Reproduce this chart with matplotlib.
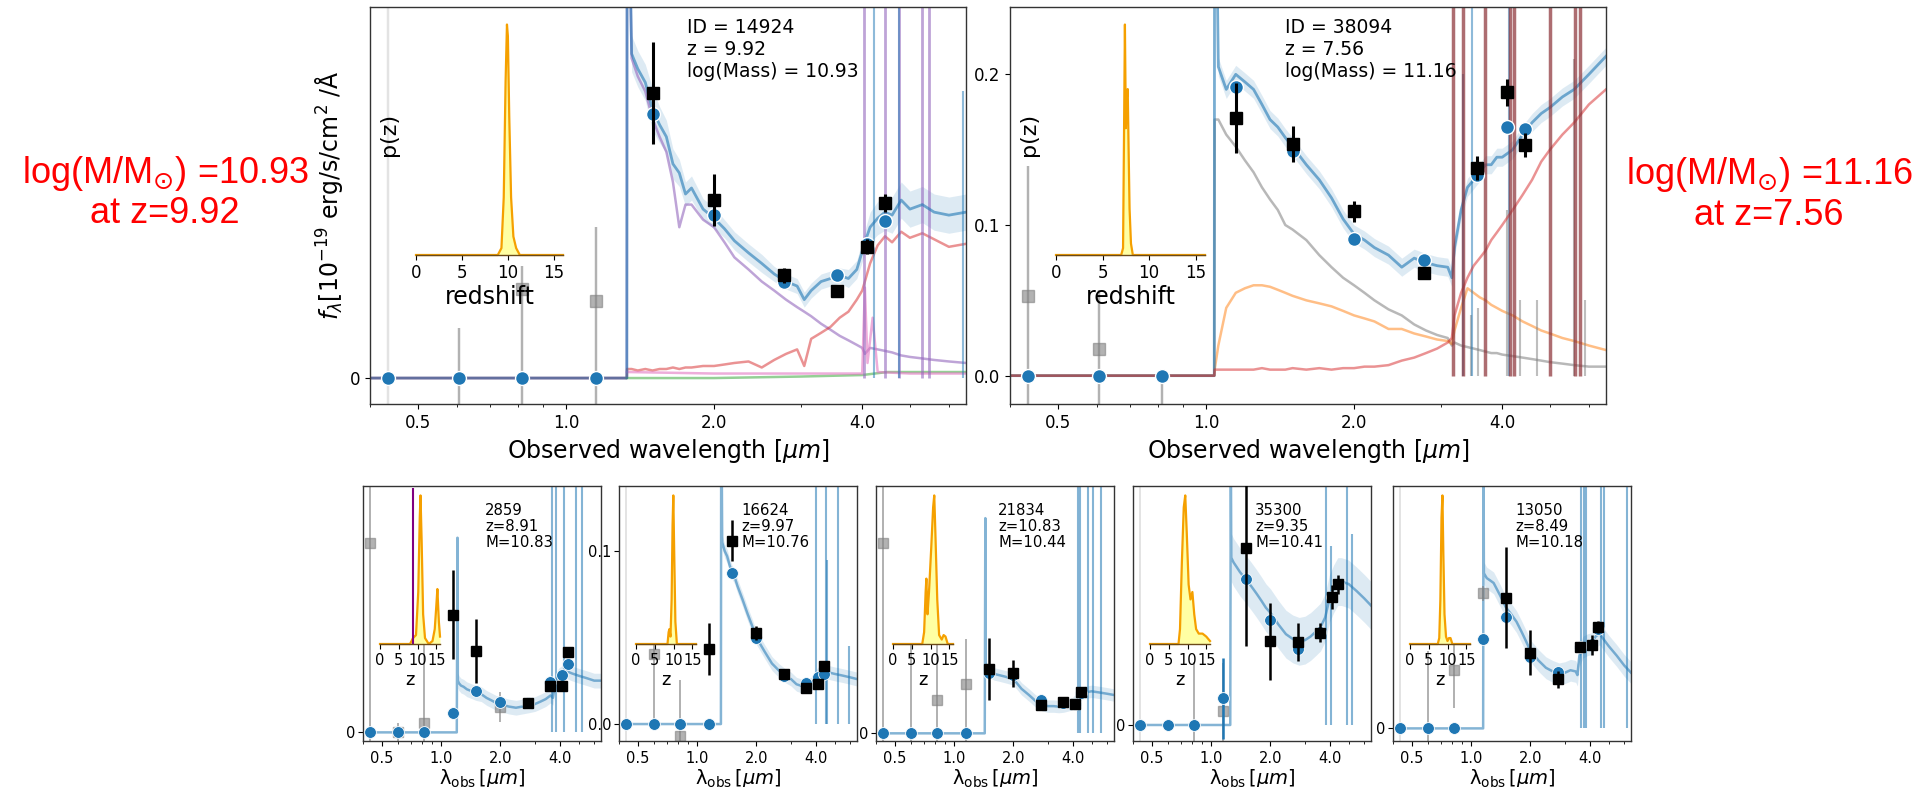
import numpy as np
import matplotlib
matplotlib.use("Agg")
import matplotlib.pyplot as plt
import matplotlib.ticker as mticker

W, H = 1919, 787

plt.rcParams["axes.edgecolor"] = "0.2"
plt.rcParams["axes.linewidth"] = 1.0

# -----------------------------
# Shared: filters and ticks
# -----------------------------
filt_wave = [0.435, 0.606, 0.814, 1.15, 1.50, 2.00, 2.77, 3.56, 4.10, 4.44]
wave_ticks = [0.5, 1.0, 2.0, 4.0]
wave_tick_labels = ["0.5", "1.0", "2.0", "4.0"]
z_ticks = [0, 5, 10, 15]

# -----------------------------
# Top-left: ID 14924
# -----------------------------
tl_wave = [0.40, 1.330, 1.332, 1.36, 1.40, 1.45, 1.50, 1.55, 1.60, 1.65, 1.70, 1.75, 1.80, 1.90,
           2.00, 2.10, 2.20, 2.35, 2.50, 2.65, 2.80, 2.95, 3.05, 3.15, 3.30, 3.45, 3.60, 3.75,
           3.90, 4.00, 4.05, 4.15, 4.30, 4.45, 4.60, 4.80, 5.00, 5.30, 5.60, 6.00, 6.50]
tl_total = [0, 0, 0.40, 0.215, 0.205, 0.196, 0.178, 0.168, 0.160, 0.142, 0.136, 0.122, 0.126, 0.112,
            0.106, 0.099, 0.091, 0.083, 0.076, 0.069, 0.064, 0.061, 0.052, 0.058, 0.064, 0.066, 0.068, 0.066,
            0.072, 0.084, 0.090, 0.100, 0.106, 0.110, 0.108, 0.118, 0.112, 0.115, 0.110, 0.108, 0.110]
tl_band = [0, 0, 0, 0.012, 0.012, 0.012, 0.014, 0.012, 0.011, 0.010, 0.009, 0.008, 0.008, 0.007,
           0.007, 0.006, 0.006, 0.006, 0.006, 0.005, 0.005, 0.005, 0.005, 0.005, 0.005, 0.005, 0.005, 0.006,
           0.006, 0.007, 0.008, 0.010, 0.011, 0.012, 0.012, 0.012, 0.012, 0.012, 0.012, 0.012, 0.012]
tl_purple = [0, 0, 0.40, 0.212, 0.200, 0.190, 0.172, 0.160, 0.150, 0.130, 0.100, 0.115, 0.115, 0.105,
             0.100, 0.090, 0.080, 0.072, 0.064, 0.058, 0.052, 0.047, 0.044, 0.041, 0.036, 0.032, 0.028, 0.025,
             0.022, 0.020, 0.016, 0.020, 0.019, 0.018, 0.017, 0.015, 0.014, 0.013, 0.012, 0.011, 0.010]
tl_red = [0, 0, 0.006, 0.006, 0.005, 0.006, 0.005, 0.006, 0.006, 0.007, 0.006, 0.007, 0.007, 0.008,
          0.008, 0.009, 0.010, 0.011, 0.007, 0.012, 0.016, 0.019, 0.008, 0.026, 0.030, 0.034, 0.040, 0.044,
          0.052, 0.058, 0.064, 0.076, 0.088, 0.094, 0.090, 0.097, 0.093, 0.096, 0.092, 0.087, 0.089]
tl_green_wave = [1.33, 2.0, 3.0, 4.0, 4.5, 5.5, 6.5]
tl_green = [0.0, 0.0, 0.001, 0.002, 0.004, 0.004, 0.004]
tl_pink_wave = [1.33, 2.0, 3.0, 4.0, 4.05, 4.1, 4.2, 4.3, 5.0, 6.5]
tl_pink = [0.004, 0.003, 0.003, 0.003, 0.06, 0.01, 0.04, 0.004, 0.003, 0.003]
tl_purple_lines = [4.04, 4.46, 4.75, 5.30, 5.46]
tl_blue_lines = [4.23, 4.75, 6.40]
tl_blue_tops = [0.30, 0.30, 0.19]

tl_circ = [0, 0, 0, 0, 0.175, 0.108, 0.064, 0.068, 0.089, 0.104]
tl_obs_wave = [1.50, 2.00, 2.77, 3.56, 4.10, 4.44]
tl_obs = [0.189, 0.118, 0.068, 0.058, 0.087, 0.116]
tl_obs_err = [0.034, 0.017, 0.005, 0.002, 0.005, 0.006]
tl_low_wave = [0.435, 0.606, 0.814, 1.15]
tl_low = [-0.10, -0.06, 0.059, 0.051]
tl_low_lo = [0.5, 0.1, 0.1, 0.1]
tl_low_hi = [0.5, 0.093, 0.015, 0.049]

tl_pz_z = [0, 8.9, 9.3, 9.55, 9.75, 9.9, 10.0, 10.15, 10.35, 10.6, 10.9, 11.3, 16]
tl_pz = [0, 0, 0.03, 0.25, 0.75, 1.0, 0.95, 0.6, 0.25, 0.08, 0.03, 0.0, 0]

# -----------------------------
# Top-right: ID 38094
# -----------------------------
tr_wave = [0.40, 1.040, 1.042, 1.06, 1.10, 1.15, 1.20, 1.25, 1.30, 1.35, 1.40, 1.45, 1.50, 1.60,
           1.70, 1.80, 1.90, 2.00, 2.10, 2.20, 2.35, 2.50, 2.65, 2.80, 2.95, 3.10, 3.16, 3.20,
           3.30, 3.40, 3.50, 3.60, 3.70, 3.80, 3.90, 4.00, 4.20, 4.40, 4.60, 4.80, 5.00, 5.30,
           5.60, 6.00, 6.50]
tr_total = [0, 0, 0.40, 0.205, 0.190, 0.200, 0.195, 0.190, 0.180, 0.170, 0.165, 0.158, 0.152, 0.140,
            0.130, 0.118, 0.104, 0.094, 0.090, 0.085, 0.080, 0.072, 0.078, 0.075, 0.073, 0.072, 0.065, 0.085,
            0.110, 0.125, 0.130, 0.135, 0.140, 0.140, 0.145, 0.145, 0.150, 0.160, 0.168, 0.174, 0.178, 0.185,
            0.190, 0.200, 0.212]
tr_gray = [0, 0, 0.17, 0.170, 0.160, 0.152, 0.143, 0.135, 0.125, 0.117, 0.110, 0.100, 0.097, 0.090,
           0.080, 0.072, 0.065, 0.060, 0.055, 0.050, 0.044, 0.040, 0.034, 0.030, 0.027, 0.025, 0.020, 0.022,
           0.020, 0.019, 0.018, 0.017, 0.016, 0.015, 0.015, 0.014, 0.013, 0.012, 0.011, 0.010, 0.009, 0.008,
           0.007, 0.006, 0.006]
tr_orange = [0, 0, 0.004, 0.020, 0.045, 0.055, 0.058, 0.060, 0.060, 0.059, 0.057, 0.055, 0.053, 0.050,
             0.048, 0.046, 0.043, 0.040, 0.038, 0.036, 0.031, 0.031, 0.028, 0.026, 0.024, 0.023, 0.021, 0.030,
             0.045, 0.058, 0.055, 0.052, 0.050, 0.047, 0.045, 0.043, 0.040, 0.036, 0.033, 0.030, 0.028, 0.025,
             0.023, 0.020, 0.017]
tr_red = [0, 0, 0.004, 0.004, 0.004, 0.004, 0.004, 0.004, 0.005, 0.004, 0.004, 0.004, 0.005, 0.004,
          0.005, 0.004, 0.005, 0.005, 0.006, 0.006, 0.007, 0.010, 0.012, 0.015, 0.018, 0.022, 0.025, 0.040,
          0.055, 0.065, 0.073, 0.078, 0.083, 0.090, 0.095, 0.100, 0.110, 0.120, 0.130, 0.142, 0.150, 0.160,
          0.168, 0.180, 0.190]
tr_band_width = 0.006
tr_brown_lines = [3.18, 3.33, 3.69, 4.15, 4.23, 5.00, 5.62, 5.76]
tr_gray_lines = [3.45, 3.57, 4.10, 4.35, 4.70, 5.60, 5.90]
tr_gray_tops = [0.04, 0.045, 0.11, 0.05, 0.05, 0.21, 0.05]
tr_blue_lines = [3.33, 3.47, 4.13]
tr_blue_tops = [0.20, 0.30, 0.30]

tr_circ = [0, 0, 0, 0.1915, 0.149, 0.091, 0.077, 0.133, 0.165, 0.164]
tr_obs_wave = [1.15, 1.50, 2.00, 2.77, 3.56, 4.10, 4.44]
tr_obs = [0.171, 0.154, 0.109, 0.068, 0.138, 0.188, 0.153]
tr_obs_err = [0.023, 0.012, 0.007, 0.002, 0.008, 0.009, 0.008]
tr_low_wave = [0.435, 0.606, 0.814]
tr_low = [0.053, 0.018, -0.05]
tr_low_lo = [0.1, 0.1, 0.1]
tr_low_hi = [0.086, 0.039, 0.05]

tr_pz_z = [0, 7.0, 7.2, 7.3, 7.4, 7.5, 7.6, 7.7, 7.8, 7.9, 8.05, 8.25, 16]
tr_pz = [0, 0, 0.03, 0.5, 1.0, 0.55, 0.68, 0.72, 0.45, 0.2, 0.05, 0, 0]

# -----------------------------
# Bottom row: five more galaxies
# -----------------------------
b_ids = ["2859", "16624", "21834", "35300", "13050"]
b_z = ["8.91", "9.97", "10.83", "9.35", "8.49"]
b_mass = ["10.83", "10.76", "10.44", "10.41", "10.18"]

b1_wave = [0.40, 1.20, 1.21, 1.215, 1.23, 1.26, 1.30, 1.35, 1.40, 1.50, 1.60, 1.70, 1.80, 1.90, 2.00,
           2.20, 2.40, 2.60, 2.80, 3.00, 3.20, 3.40, 3.60, 3.70, 3.80, 3.95, 4.10, 4.30, 4.60, 5.00,
           5.50, 6.00, 6.50]
b1_flux = [0, 0, 0.79, 0.21, 0.20, 0.19, 0.185, 0.175, 0.17, 0.16, 0.155, 0.14, 0.13, 0.12, 0.115,
           0.105, 0.10, 0.105, 0.11, 0.115, 0.125, 0.135, 0.15, 0.14, 0.20, 0.23, 0.24, 0.25, 0.24, 0.23,
           0.22, 0.21, 0.21]
b1_circ = [0, 0, 0, 0.077, 0.167, 0.122, 0.118, 0.203, 0.232, 0.277]
b1_obs_wave = [1.15, 1.50, 2.77, 3.56, 4.10, 4.44]
b1_obs = [0.478, 0.330, 0.118, 0.189, 0.189, 0.327]
b1_obs_err = [0.18, 0.13, 0.012, 0.012, 0.012, 0.015]
b1_low_wave = [0.435, 0.606, 0.814, 2.00]
b1_low = [0.769, 0.0, 0.040, 0.104]
b1_low_lo = [1.0, 0.04, 0.3, 0.061]
b1_low_hi = [1.0, 0.04, 0.6, 0.061]
b1_lines = [3.64, 3.85, 4.19, 4.85, 5.20]
b1_tops = [2, 2, 2, 2, 2]
b1_pz_z = [0, 8.0, 8.8, 9.6, 10.2, 10.6, 10.8, 11.1, 11.5, 12.0, 13.0, 14.0, 14.6, 15.0, 15.3, 15.7, 16.0]
b1_pz = [0, 0, 0.04, 0.06, 0.35, 0.85, 1.0, 0.7, 0.2, 0.04, 0.0, 0.02, 0.1, 0.25, 0.37, 0.15, 0.05]
b1_zbest = 8.91

b2_wave = [0.40, 1.32, 1.325, 1.34, 1.38, 1.42, 1.46, 1.50, 1.55, 1.60, 1.70, 1.80, 1.90, 2.00, 2.20,
           2.40, 2.60, 2.80, 3.00, 3.20, 3.40, 3.60, 3.80, 4.00, 4.20, 4.40, 4.60, 5.00, 5.50, 6.00, 6.50]
b2_flux = [0, 0, 0.2, 0.105, 0.100, 0.097, 0.092, 0.088, 0.085, 0.080, 0.072, 0.064, 0.057, 0.050, 0.042,
           0.035, 0.031, 0.028, 0.026, 0.023, 0.022, 0.022, 0.023, 0.027, 0.030, 0.031, 0.030, 0.029, 0.028,
           0.027, 0.026]
b2_circ = [0, 0, 0, 0, 0.0871, 0.050, 0.028, 0.0237, 0.027, 0.029]
b2_obs_wave = [1.15, 1.50, 2.00, 2.77, 3.56, 4.10, 4.44]
b2_obs = [0.0433, 0.106, 0.0525, 0.0289, 0.0208, 0.0233, 0.0338]
b2_obs_err = [0.015, 0.012, 0.004, 0.0015, 0.0015, 0.0015, 0.002]
b2_low_wave = [0.435, 0.606, 0.814]
b2_low = [0.5, 0.0404, -0.0068]
b2_low_lo = [1.0, 0.0404, 0.032]
b2_low_hi = [1.0, 0.05, 0.032]
b2_lines = [4.0, 4.5, 4.6, 5.2, 5.9]
b2_tops = [0.2, 0.2, 0.095, 0.2, 0.045]
b2_pz_z = [0, 8.4, 8.7, 8.9, 9.2, 9.5, 9.75, 9.95, 10.2, 10.5, 10.9, 16]
b2_pz = [0, 0, 0.08, 0.1, 0.05, 0.3, 0.8, 1.0, 0.6, 0.15, 0, 0]

b3_wave = [0.40, 1.43, 1.44, 1.445, 1.46, 1.50, 1.55, 1.60, 1.70, 1.80, 1.90, 2.00, 2.20, 2.40, 2.60,
           2.80, 3.00, 3.20, 3.40, 3.60, 3.80, 4.00, 4.20, 4.40, 4.60, 5.00, 5.50, 6.00, 6.50]
b3_flux = [0, 0, 0.87, 0.27, 0.26, 0.25, 0.245, 0.24, 0.235, 0.23, 0.225, 0.22, 0.18, 0.155, 0.13,
           0.115, 0.11, 0.11, 0.108, 0.11, 0.115, 0.12, 0.14, 0.16, 0.165, 0.17, 0.165, 0.16, 0.155]
b3_circ = [0, 0, 0, 0, 0.243, 0.236, 0.135, 0.124, 0.119, 0.162]
b3_obs_wave = [1.50, 2.00, 2.77, 3.56, 4.10, 4.44]
b3_obs = [0.260, 0.243, 0.114, 0.128, 0.117, 0.166]
b3_obs_err = [0.125, 0.055, 0.02, 0.012, 0.01, 0.012]
b3_low_wave = [0.435, 0.606, 0.814, 1.15]
b3_low = [0.768, -0.30, 0.135, 0.198]
b3_low_lo = [1.0, 0.5, 0.5, 0.5]
b3_low_hi = [1.0, 0.8, 0.5, 0.182]
b3_lines = [4.25, 4.37, 4.8, 5.1, 5.6]
b3_tops = [2, 2, 2, 2, 2]
b3_pz_z = [0, 7.8, 8.3, 8.7, 8.9, 9.2, 9.6, 10.2, 10.7, 11.0, 11.3, 11.8, 12.3, 13.0, 13.5, 14.0, 14.6, 16]
b3_pz = [0, 0, 0.08, 0.35, 0.44, 0.2, 0.35, 0.65, 0.92, 1.0, 0.75, 0.3, 0.06, 0.03, 0.06, 0.05, 0.0, 0]

b4_wave = [0.40, 1.25, 1.258, 1.265, 1.30, 1.35, 1.40, 1.50, 1.60, 1.70, 1.80, 1.90, 2.00, 2.20, 2.40,
           2.60, 2.80, 3.00, 3.20, 3.40, 3.60, 3.80, 4.00, 4.20, 4.40, 4.60, 5.00, 5.50, 6.00, 6.50]
b4_flux = [0, 0, 1.2, 0.70, 0.68, 0.66, 0.64, 0.61, 0.58, 0.55, 0.52, 0.49, 0.47, 0.42, 0.38,
           0.36, 0.35, 0.355, 0.37, 0.39, 0.41, 0.45, 0.53, 0.57, 0.60, 0.60, 0.59, 0.56, 0.53, 0.50]
b4_circ = [0, 0, 0, 0.112, 0.610, 0.440, 0.320, 0.390, 0.537, 0.590]
b4_circ_err = [0, 0, 0, 0.17, 0, 0, 0, 0, 0, 0]
b4_obs_wave = [1.50, 2.00, 2.77, 3.56, 4.10, 4.44]
b4_obs = [0.740, 0.350, 0.346, 0.386, 0.534, 0.589]
b4_obs_err = [0.41, 0.16, 0.08, 0.04, 0.05, 0.04]
b4_low_wave = [0.435, 0.814, 1.15]
b4_low = [1.5, -0.30, 0.060]
b4_low_lo = [2.0, 0.5, 0.5]
b4_low_hi = [2.0, 0.565, 0.2]
b4_lines = [3.85, 4.05, 4.9, 5.2]
b4_tops = [2, 0.75, 2, 0.8]
b4_pz_z = [0, 7.6, 8.0, 8.5, 9.0, 9.4, 9.8, 10.3, 10.8, 11.3, 11.8, 12.3, 13.0, 14.0, 15.0, 16.0]
b4_pz = [0, 0, 0.1, 0.55, 0.92, 1.0, 0.75, 0.4, 0.3, 0.35, 0.2, 0.1, 0.07, 0.07, 0.05, 0.02]

b5_wave = [0.40, 1.15, 1.155, 1.16, 1.20, 1.25, 1.30, 1.40, 1.50, 1.60, 1.70, 1.80, 1.90, 2.00, 2.20,
           2.40, 2.60, 2.80, 3.00, 3.20, 3.40, 3.47, 3.55, 3.70, 3.90, 4.10, 4.30, 4.50, 5.00, 5.50,
           6.00, 6.50]
b5_flux = [0, 0, 1.2, 0.64, 0.62, 0.61, 0.60, 0.55, 0.50, 0.47, 0.44, 0.40, 0.36, 0.32, 0.28,
           0.25, 0.235, 0.225, 0.23, 0.24, 0.235, 0.22, 0.30, 0.335, 0.345, 0.35, 0.38, 0.39, 0.34, 0.30,
           0.26, 0.23]
b5_circ = [0, 0, 0, 0.367, 0.460, 0.296, 0.234, 0.337, 0.350, 0.410]
b5_obs_wave = [1.50, 2.00, 2.77, 3.56, 4.10, 4.44]
b5_obs = [0.540, 0.312, 0.2035, 0.334, 0.344, 0.420]
b5_obs_err = [0.21, 0.093, 0.035, 0.02, 0.04, 0.025]
b5_low_wave = [0.435, 0.606, 0.814, 1.15]
b5_low = [1.5, -0.30, 0.24, 0.557]
b5_low_lo = [2.0, 0.5, 0.155, 0.03]
b5_low_hi = [2.0, 0.62, 0.155, 0.03]
b5_lines = [3.6, 3.75, 3.85, 4.6, 4.75, 6.2]
b5_tops = [2, 2, 2, 2, 2, 2]
b5_pz_z = [0, 7.4, 7.8, 8.1, 8.4, 8.65, 8.9, 9.2, 9.6, 10.0, 10.4, 10.8, 11.3, 16]
b5_pz = [0, 0, 0.04, 0.3, 0.85, 1.0, 0.6, 0.2, 0.05, 0.02, 0.04, 0.04, 0.0, 0]


# -----------------------------
# Helpers
# -----------------------------
def box(x0, y0, x1, y1):
    # pixel box (top-left origin) -> figure fraction
    return [x0 / W, 1 - y1 / H, (x1 - x0) / W, (y1 - y0) / H]


def style_sed(ax, tick_size):
    ax.set_xscale("log")
    ax.set_xlim(0.40, 6.5)
    ax.xaxis.set_major_locator(mticker.FixedLocator(wave_ticks))
    ax.xaxis.set_major_formatter(mticker.FixedFormatter(wave_tick_labels))
    ax.xaxis.set_minor_locator(mticker.LogLocator(base=10, subs=np.arange(2, 10), numticks=20))
    ax.xaxis.set_minor_formatter(mticker.NullFormatter())
    ax.tick_params(labelsize=tick_size)


def draw_points(ax, circ, ow, ov, oe, gw, gv, glo, ghi, big, circ_err=None):
    if big:
        ms_c, mew_c, ms_s, elw = 10, 1.0, 9, 2.2
    else:
        ms_c, mew_c, ms_s, elw = 8.5, 0.6, 6.7, 1.8
    ylo, yhi = ax.get_ylim()
    for w, v, lo, hi in zip(gw, gv, glo, ghi):
        off = v < ylo or v > yhi
        full = (v - lo) < ylo and (v + hi) > yhi
        a = 0.22 if (off and full) else 0.6
        ax.errorbar([w], [v], yerr=[[lo], [hi]], fmt="s", color="gray", alpha=a,
                    ms=ms_s, elinewidth=elw * 0.8, capsize=0, zorder=2)
    if circ_err is not None:
        ax.errorbar(filt_wave, circ, yerr=circ_err, fmt="none", ecolor="C0",
                    elinewidth=elw, capsize=0, zorder=2.5)
    ax.plot(filt_wave, circ, "o", color="C0", mec="white", mew=mew_c, ms=ms_c, zorder=3)
    ax.errorbar(ow, ov, yerr=oe, fmt="s", color="k", ms=ms_s, elinewidth=elw,
                capsize=0, zorder=4)


def style_inset(ax, zz, pp, tick_size, label, label_size, ylab=None):
    ax.set_facecolor("white")
    ax.fill_between(zz, 0, pp, color="#ffff66", alpha=0.6, lw=0)
    ax.plot(zz, pp, color="#f5a000", lw=1.6, clip_on=False)
    ax.set_xlim(0, 16)
    ax.set_ylim(0, 1.05)
    ax.set_xticks(z_ticks)
    ax.set_yticks([])
    for s in ["left", "top", "right"]:
        ax.spines[s].set_visible(False)
    ax.spines["bottom"].set_color("#6b4a1a")
    ax.tick_params(labelsize=tick_size, pad=3)
    ax.set_xlabel(label, fontsize=label_size, labelpad=2)
    if ylab:
        ax.set_ylabel(ylab, fontsize=16, labelpad=12)


fig = plt.figure(figsize=(W / 100, H / 100), dpi=100)

# -----------------------------
# Top-left panel
# -----------------------------
ax = fig.add_axes(box(370, 7, 966, 404))
style_sed(ax, 12)
ax.set_ylim(-0.0172, 0.246)
ax.set_yticks([0])
ax.set_yticklabels(["0"])
tot = np.array(tl_total)
bw = np.array(tl_band)
ax.fill_between(tl_wave, tot - bw, tot + bw, color="C0", alpha=0.15, lw=0)
ax.plot(tl_wave, tl_purple, color="C4", alpha=0.6, lw=1.8)
ax.plot(tl_wave, tl_red, color="C3", alpha=0.5, lw=1.8)
ax.plot(tl_green_wave, tl_green, color="C2", alpha=0.5, lw=1.8)
ax.plot(tl_pink_wave, tl_pink, color="C6", alpha=0.6, lw=1.8)
ax.vlines(tl_purple_lines, 0, 1, color="C4", alpha=0.6, lw=2)
ax.vlines(tl_blue_lines, 0, tl_blue_tops, color="C0", alpha=0.5, lw=1.5)
ax.plot(tl_wave, tl_total, color="C0", alpha=0.6, lw=2)
draw_points(ax, tl_circ, tl_obs_wave, tl_obs, tl_obs_err,
            tl_low_wave, tl_low, tl_low_lo, tl_low_hi, big=True)
ax.set_xlabel("Observed wavelength [$\\mu m$]", fontsize=17)
ax.text(0.532, 0.972, "ID = 14924\nz = 9.92\nlog(Mass) = 10.93",
        transform=ax.transAxes, va="top", fontsize=13.5)
fig.text(329 / W, 1 - 195 / H, "$f_{\\lambda} [10^{-19}$ erg/s/cm$^2$ /Å",
         rotation=90, ha="center", va="center", fontsize=17)

ins = fig.add_axes(box(416, 13, 563, 255))
style_inset(ins, tl_pz_z, tl_pz, 12, "redshift", 17, ylab="p(z)")

# -----------------------------
# Top-right panel
# -----------------------------
ax = fig.add_axes(box(1010, 7, 1606, 404))
style_sed(ax, 12)
ax.set_ylim(-0.0188, 0.2447)
ax.set_yticks([0, 0.1, 0.2])
ax.set_yticklabels(["0.0", "0.1", "0.2"])
tot = np.array(tr_total)
bw = np.where(tot > 0, tr_band_width, 0)
ax.fill_between(tr_wave, tot - bw, tot + bw, color="C0", alpha=0.15, lw=0)
ax.plot(tr_wave, tr_gray, color="C7", alpha=0.55, lw=1.8)
ax.plot(tr_wave, tr_orange, color="C1", alpha=0.5, lw=1.8)
ax.vlines(tr_gray_lines, 0, tr_gray_tops, color="C7", alpha=0.5, lw=1.5)
ax.vlines(tr_blue_lines, 0, tr_blue_tops, color="C0", alpha=0.5, lw=1.5)
ax.plot(tr_wave, tr_total, color="C0", alpha=0.6, lw=2)
ax.plot(tr_wave, tr_red, color="C3", alpha=0.5, lw=1.8)
ax.vlines(tr_brown_lines, 0, 1, color="#8b2f35", alpha=0.7, lw=2.5)
draw_points(ax, tr_circ, tr_obs_wave, tr_obs, tr_obs_err,
            tr_low_wave, tr_low, tr_low_lo, tr_low_hi, big=True)
ax.set_xlabel("Observed wavelength [$\\mu m$]", fontsize=17)
ax.text(0.461, 0.972, "ID = 38094\nz = 7.56\nlog(Mass) = 11.16",
        transform=ax.transAxes, va="top", fontsize=13.5)

ins = fig.add_axes(box(1056, 13, 1205, 255))
style_inset(ins, tr_pz_z, tr_pz, 12, "redshift", 17, ylab="p(z)")

# -----------------------------
# Bottom row
# -----------------------------
panels = [
    dict(wave=b1_wave, flux=b1_flux, circ=b1_circ, ow=b1_obs_wave, ov=b1_obs, oe=b1_obs_err,
         gw=b1_low_wave, gv=b1_low, glo=b1_low_lo, ghi=b1_low_hi, lines=b1_lines, tops=b1_tops,
         pz_z=b1_pz_z, pz=b1_pz, ylim=(-0.035, 1.0), yt=[0], ytl=["0"], band=0.03),
    dict(wave=b2_wave, flux=b2_flux, circ=b2_circ, ow=b2_obs_wave, ov=b2_obs, oe=b2_obs_err,
         gw=b2_low_wave, gv=b2_low, glo=b2_low_lo, ghi=b2_low_hi, lines=b2_lines, tops=b2_tops,
         pz_z=b2_pz_z, pz=b2_pz, ylim=(-0.0098, 0.1376), yt=[0, 0.1], ytl=["0.0", "0.1"], band=0.004),
    dict(wave=b3_wave, flux=b3_flux, circ=b3_circ, ow=b3_obs_wave, ov=b3_obs, oe=b3_obs_err,
         gw=b3_low_wave, gv=b3_low, glo=b3_low_lo, ghi=b3_low_hi, lines=b3_lines, tops=b3_tops,
         pz_z=b3_pz_z, pz=b3_pz, ylim=(-0.031, 1.0), yt=[0], ytl=["0"], band=0.025),
    dict(wave=b4_wave, flux=b4_flux, circ=b4_circ, ow=b4_obs_wave, ov=b4_obs, oe=b4_obs_err,
         gw=b4_low_wave, gv=b4_low, glo=b4_low_lo, ghi=b4_low_hi, lines=b4_lines, tops=b4_tops,
         pz_z=b4_pz_z, pz=b4_pz, ylim=(-0.067, 1.0), yt=[0], ytl=["0"], band=0.1,
         circ_err=b4_circ_err),
    dict(wave=b5_wave, flux=b5_flux, circ=b5_circ, ow=b5_obs_wave, ov=b5_obs, oe=b5_obs_err,
         gw=b5_low_wave, gv=b5_low, glo=b5_low_lo, ghi=b5_low_hi, lines=b5_lines, tops=b5_tops,
         pz_z=b5_pz_z, pz=b5_pz, ylim=(-0.052, 1.0), yt=[0], ytl=["0"], band=0.045),
]
b_left = [363, 619, 876, 1133, 1393]

for i, p in enumerate(panels):
    left = b_left[i]
    ax = fig.add_axes(box(left, 486, left + 238, 741))
    style_sed(ax, 10.5)
    ax.set_ylim(*p["ylim"])
    ax.set_yticks(p["yt"])
    ax.set_yticklabels(p["ytl"])
    ax.tick_params(axis="y", labelsize=10.5, pad=2)
    flux = np.array(p["flux"])
    bw = np.where(flux > 0, p["band"], 0)
    ax.fill_between(p["wave"], flux - bw, flux + bw, color="C0", alpha=0.15, lw=0)
    ax.vlines(p["lines"], 0, p["tops"], color="C0", alpha=0.55, lw=1.5)
    ax.plot(p["wave"], p["flux"], color="C0", alpha=0.55, lw=1.8)
    draw_points(ax, p["circ"], p["ow"], p["ov"], p["oe"],
                p["gw"], p["gv"], p["glo"], p["ghi"], big=False,
                circ_err=p.get("circ_err"))
    ax.set_xlabel("$\\mathrm{\\lambda_{obs}}\\,[\\mu m]$", fontsize=14, labelpad=1)
    ax.text(0.513, 0.935, f"{b_ids[i]}\nz={b_z[i]}\nM={b_mass[i]}",
            transform=ax.transAxes, va="top", fontsize=10.7, linespacing=1.1)

    ins = fig.add_axes(box(left + 17, 488, left + 77, 644))
    style_inset(ins, p["pz_z"], p["pz"], 10.5, "z", 13)
    if i == 0:
        ins.vlines([b1_zbest], 0, 1.05, color="purple", lw=1.5)

# -----------------------------
# Red mass annotations
# -----------------------------
fig.text(165 / W, 1 - 192.5 / H, "log(M/M$_{\\odot}$) =10.93\nat z=9.92", color="red",
         fontsize=26, family="Liberation Sans", ha="center", va="center",
         multialignment="center", linespacing=1.12)
fig.text(1769 / W, 1 - 194 / H, "log(M/M$_{\\odot}$) =11.16\nat z=7.56", color="red",
         fontsize=26, family="Liberation Sans", ha="center", va="center",
         multialignment="center", linespacing=1.12)

plt.savefig("out.png", dpi=100)
plt.close()
